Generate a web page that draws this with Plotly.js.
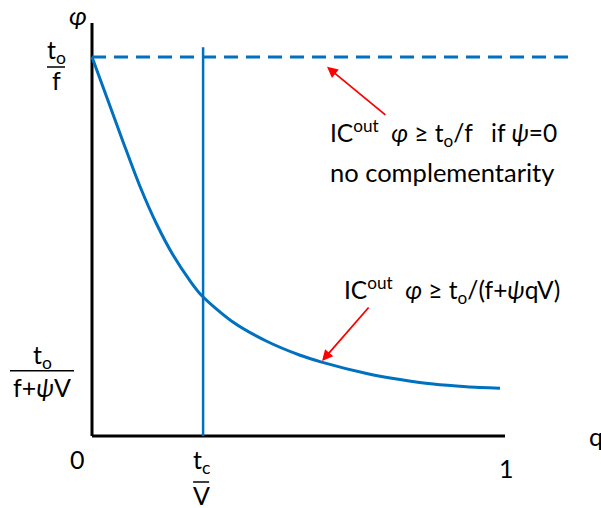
<!DOCTYPE html>
<html><head><meta charset="utf-8">
<script src="https://cdn.plot.ly/plotly-3.0.1.min.js"></script>
<style>html,body{margin:0;padding:0;background:#fff}#chart{width:601px;height:508px}</style>
</head><body><div id="chart"></div>
<script>
// Curve IC_out: phi >= t_o/(f + psi q V)
const curveQ   = [0, 0.036, 0.076, 0.116, 0.157, 0.197, 0.237, 0.266, 0.342, 0.423, 0.504, 0.556, 0.665, 0.746, 0.826, 0.907, 0.988];
const curvePhi = [1.0, 0.893, 0.774, 0.659, 0.558, 0.476, 0.410, 0.370, 0.300, 0.250, 0.213, 0.195, 0.165, 0.149, 0.137, 0.130, 0.126];
// Levels
const toF = 1.0;          // t_o/f (dashed line)
const dashedEnd = 1.153;  // dashed line reaches past q=1
const toFpV = 0.172;      // t_o/(f+psi V) label level
const tcV = 0.269;        // t_c/V vertical line
const vertTop = 1.026;
const axisXMax = 1.0, axisYMax = 1.09;

const blue = '#0070C0';
const FONT = 'Lato, "Liberation Sans", sans-serif';

const traces = [
  {x:[0, axisXMax], y:[0,0], mode:'lines', line:{color:'#000', width:3}, hoverinfo:'skip'},
  {x:[0,0], y:[0, axisYMax], mode:'lines', line:{color:'#000', width:3}, hoverinfo:'skip'},
  {x:[0, dashedEnd], y:[toF, toF], mode:'lines', line:{color:blue, width:3, dash:'14px,8px'}, hoverinfo:'skip'},
  {x:[tcV, tcV], y:[0, vertTop], mode:'lines', line:{color:blue, width:2.5}, hoverinfo:'skip'},
  {x:curveQ, y:curvePhi, mode:'lines', line:{color:blue, width:3, shape:'spline', smoothing:0.8}, hoverinfo:'skip'}
];

const f = (s)=>({family:FONT, size:s, color:'#000'});
const lab = (x,y,text,xs,ys,size,extra)=>Object.assign({x:x,y:y,xref:'x',yref:'y',text:text,showarrow:false,xanchor:'center',yanchor:'middle',xshift:xs,yshift:ys,font:f(size)},extra||{});

const annotations = [
  lab(0, axisYMax, '<i>φ</i>', -14, 8, 26),
  lab(0, toF, 't<sub>o</sub>', -36, 6, 25),
  lab(0, toF, 'f', -36, -23, 25),
  lab(0, toFpV, 't<sub>o</sub>', -50, 15, 25),
  lab(0, toFpV, 'f+<i>ψ</i>V', -50, -16, 25),
  lab(0, 0, '0', -15, -23, 25),
  lab(1, 0, '1', 1, -32, 25),
  lab(tcV, 0, 't<sub>c</sub>', -2, -25, 25),
  lab(tcV, 0, 'V', -2, -59, 25),
  {x:1, y:0, xref:'paper', yref:'y', text:'q', showarrow:false, xanchor:'left', yanchor:'middle', xshift:-14, yshift:0, font:f(25)},
  {x:0.571, y:0.799, xref:'x', yref:'y', text:'IC<sup>out</sup>\u00A0 <i>φ</i> ≥ t<sub>o</sub>/f\u00A0\u00A0 if <i>ψ</i>=0', showarrow:false, xanchor:'left', yanchor:'middle', font:f(24.5)},
  {x:0.571, y:0.697, xref:'x', yref:'y', text:'no complementarity', showarrow:false, xanchor:'left', yanchor:'middle', font:f(25.5)},
  {x:0.605, y:0.385, xref:'x', yref:'y', text:'IC<sup>out</sup>\u00A0 <i>φ</i> ≥ t<sub>o</sub>/(f+<i>ψ</i>qV)', showarrow:false, xanchor:'left', yanchor:'middle', font:f(24.5)},
  {x:0.569, y:0.974, ax:0.714, ay:0.844, xref:'x', yref:'y', axref:'x', ayref:'y', text:'', showarrow:true, arrowhead:2, arrowsize:1.2, arrowwidth:1.8, arrowcolor:'#FF0000', standoff:0, startstandoff:0},
  {x:0.557, y:0.198, ax:0.673, ay:0.343, xref:'x', yref:'y', axref:'x', ayref:'y', text:'', showarrow:true, arrowhead:2, arrowsize:1.2, arrowwidth:1.8, arrowcolor:'#FF0000', standoff:0, startstandoff:0}
];

const bar = (xa, ya, x0, x1, y)=>({type:'line', xref:'x', yref:'y', xsizemode:'pixel', ysizemode:'pixel', xanchor:xa, yanchor:ya, x0:x0, x1:x1, y0:y, y1:y, line:{color:'#000', width:1.5}});
const shapes = [
  bar(0, toF, -45, -27, -10),
  bar(0, toFpV, -82, -18, 0),
  bar(tcV, 0, -10, 6, -46)
];

const layout = {
  width:601, height:508,
  margin:{l:0, r:0, t:0, b:0},
  paper_bgcolor:'#fff', plot_bgcolor:'#fff',
  showlegend:false,
  xaxis:{range:[-92/413, 509/413], visible:false, fixedrange:true},
  yaxis:{range:[-72/379, 436/379], visible:false, fixedrange:true},
  annotations:annotations, shapes:shapes
};
Plotly.newPlot('chart', traces, layout, {displayModeBar:false, staticPlot:true});
</script></body></html>
